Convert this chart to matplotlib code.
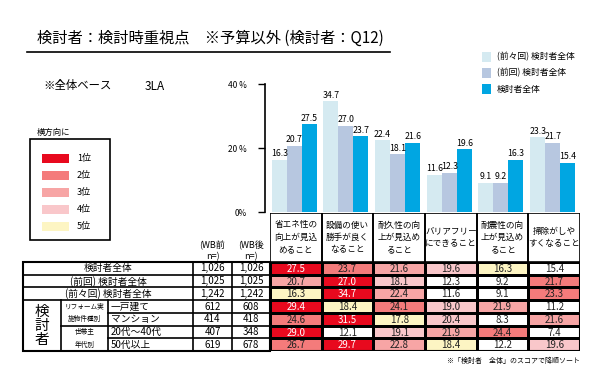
import matplotlib.pyplot as plt
import numpy as np
from matplotlib.colors import ListedColormap, BoundaryNorm

plt.rcParams['font.family'] = ['Noto Sans CJK JP', 'DejaVu Sans']

# ---- data ----
categories = ['省エネ性の\n向上が見込\nめること', '設備の使い\n勝手が良く\nなること',
              '耐久性の向\n上が見込め\nること', 'バリアフリー\nにできること',
              '耐震性の向\n上が見込め\nること', '掃除がしや\nすくなること']
series_names = ['(前々回) 検討者全体', '(前回) 検討者全体', '検討者全体']
row_labels = ['検討者全体', '(前回) 検討者全体', '(前々回) 検討者全体',
              '一戸建て', 'マンション', '20代～40代', '50代以上']
n_before = ['1,026', '1,025', '1,242', '612', '414', '407', '619']
n_after = ['1,026', '1,025', '1,242', '608', '418', '348', '678']
values = np.array([
    [27.5, 23.7, 21.6, 19.6, 16.3, 15.4],
    [20.7, 27.0, 18.1, 12.3, 9.2, 21.7],
    [16.3, 34.7, 22.4, 11.6, 9.1, 23.3],
    [29.4, 18.4, 24.1, 19.0, 21.9, 11.2],
    [24.6, 31.5, 17.8, 20.4, 8.3, 21.6],
    [29.0, 12.1, 19.1, 21.9, 24.4, 7.4],
    [26.7, 29.7, 22.8, 18.4, 12.2, 19.6],
])
# colour level per cell as shown (1 = 1位 ... 5 = 5位, 0 = none)
levels = np.array([
    [1, 2, 3, 4, 5, 0],
    [3, 1, 4, 0, 0, 2],
    [5, 1, 3, 0, 0, 2],
    [1, 5, 2, 4, 3, 0],
    [2, 1, 5, 4, 0, 3],
    [1, 0, 4, 3, 2, 0],
    [2, 1, 3, 5, 0, 4],
])
rank_labels = ['1位', '2位', '3位', '4位', '5位']

bar_colors = ['#d5eaf1', '#b7c7e0', '#00a6e2']
level_colors = ['#ffffff', '#e8091e', '#f47b7b', '#f7a5a5', '#f9c7ca', '#fdf5c3']

W, H = 600, 381
fig = plt.figure(figsize=(6, 3.81), dpi=100)


def px_axes(left, top, right, bottom):
    return fig.add_axes([left / W, 1 - bottom / H, (right - left) / W, (bottom - top) / H])


bg = px_axes(0, 0, W, H)
bg.set_xlim(0, W)
bg.set_ylim(H, 0)
bg.axis('off')

# title
bg.text(37, 38, '検討者：検討時重視点　※予算以外 (検討者：Q12)', fontsize=11,
        va='center', ha='left')
bg.plot([27, 390], [52, 52], color='black', lw=1.2)
bg.text(43, 86, '※全体ベース', fontsize=8.2, va='center')
bg.text(145, 86, '3LA', fontsize=8.5, va='center')

# series legend
for k, name in enumerate(series_names):
    y = 57 + k * 16
    bg.add_patch(plt.Rectangle((482, y - 5), 9, 10, color=bar_colors[k], lw=0))
    bg.text(497, y, name, fontsize=6.3, va='center')

# rank legend
bg.text(37, 132, '横方向に', fontsize=6, va='center')
bg.add_patch(plt.Rectangle((30, 139), 80, 101, fill=False, ec='black', lw=1.2))
for k, lab in enumerate(rank_labels):
    y = 158 + k * 17
    bg.add_patch(plt.Rectangle((42, y - 4.5), 27, 9, color=level_colors[k + 1], lw=0))
    bg.text(77, y, lab, fontsize=6.5, va='center')

# bar chart
col_left, col_right = 270, 580
ax = px_axes(265, 84, col_right, 212)
x = np.arange(len(categories)) + 0.47
bw = 0.29
for k in range(3):
    data = values[2 - k]
    bars = ax.bar(x + (k - 1) * bw, data, width=bw, color=bar_colors[k], lw=0)
    ax.bar_label(bars, labels=[f'{v:.1f}' for v in data], fontsize=6.3, padding=1)
ax.set_xlim(-5 / 51.7, len(categories))
ax.set_ylim(0, 40)
ax.set_yticks([0, 20, 40])
ax.set_yticklabels(['0%', '20 %', '40 %'], fontsize=6)
ax.tick_params(axis='y', length=5, width=1, pad=8)
ax.set_xticks([])
for s in ['top', 'right', 'bottom']:
    ax.spines[s].set_visible(False)
ax.spines['left'].set_linewidth(1.2)
ax.patch.set_alpha(0)

# category header boxes
hdr = px_axes(col_left, 213, col_right, 262)
hdr.set_xlim(0, len(categories))
hdr.set_ylim(1, 0)
hdr.axis('off')
for j, c in enumerate(categories):
    hdr.add_patch(plt.Rectangle((j, 0), 1, 1, fill=False, ec='black', lw=1.2))
    hdr.text(j + 0.5, 0.5, c, fontsize=6.2, ha='center', va='center', linespacing=1.5)

# heat table
row_top, row_bot = 262, 351
heat = px_axes(col_left, row_top, col_right, row_bot)
cmap = ListedColormap(level_colors)
norm = BoundaryNorm(np.arange(-0.5, 6.5, 1), cmap.N)
heat.pcolormesh(np.arange(7), np.arange(8), levels, cmap=cmap, norm=norm,
                edgecolors='black', linewidth=1.0)
heat.set_xlim(0, 6)
heat.set_ylim(7, 0)
heat.axis('off')
for i in range(values.shape[0]):
    for j in range(values.shape[1]):
        tc = 'white' if levels[i, j] == 1 else '#222222'
        heat.text(j + 0.5, i + 0.55, f'{values[i, j]:.1f}', fontsize=7, ha='center',
                  va='center', color=tc)
heat.add_patch(plt.Rectangle((0, 0), 6, 7, fill=False, ec='black', lw=1.5))

# left side of table
rh = (row_bot - row_top) / len(row_labels)
ry = [row_top + i * rh for i in range(len(row_labels) + 1)]
xL, xA, xB, xC, xD, xE = 23, 61, 108, 193, 232, col_left
lk = dict(color='black', lw=1.2)
bg.add_patch(plt.Rectangle((xL, row_top), xE - xL, row_bot - row_top, fill=False, ec='black', lw=1.5))
for i in range(1, 7):
    if i <= 3:
        x0 = xL
    elif i == 5:
        x0 = xA
    else:
        x0 = xB
    bg.plot([x0, xE], [ry[i], ry[i]], **lk)
bg.plot([xA, xA], [ry[3], row_bot], **lk)
bg.plot([xB, xB], [ry[3], row_bot], **lk)
for xv in (xC, xD):
    bg.plot([xv, xv], [row_top, row_bot], **lk)

for i, lab in enumerate(row_labels):
    yc = (ry[i] + ry[i + 1]) / 2
    if i < 3:
        bg.text((xL + xC) / 2, yc, lab, fontsize=7, ha='center', va='center')
    else:
        bg.text(xB + 3, yc, lab, fontsize=7, ha='left', va='center')
    bg.text((xC + xD) / 2, yc, n_before[i], fontsize=7, ha='center', va='center')
    bg.text((xD + xE) / 2, yc, n_after[i], fontsize=7, ha='center', va='center')

bg.text((xL + xA) / 2, (ry[3] + row_bot) / 2, '検\n討\n者', fontsize=10.5, ha='center',
        va='center', linespacing=1.0)
bg.text((xA + xB) / 2, (ry[3] + ry[5]) / 2, 'リフォーム実\n施物件種別', fontsize=4.8,
        ha='center', va='center', linespacing=1.8)
bg.text((xA + xB) / 2, (ry[5] + row_bot) / 2, '世帯主\n年代別', fontsize=4.8,
        ha='center', va='center', linespacing=1.8)

bg.text((xC + xD) / 2, 251, '(WB前\nn=)', fontsize=6.5, ha='center', va='center', linespacing=1.3)
bg.text((xD + xE) / 2, 251, '(WB後\nn=)', fontsize=6.5, ha='center', va='center', linespacing=1.3)

bg.text(col_right, 361, '※「検討者　全体」のスコアで降順ソート', fontsize=5, ha='right', va='center')

fig.savefig('out.png', dpi=100)
